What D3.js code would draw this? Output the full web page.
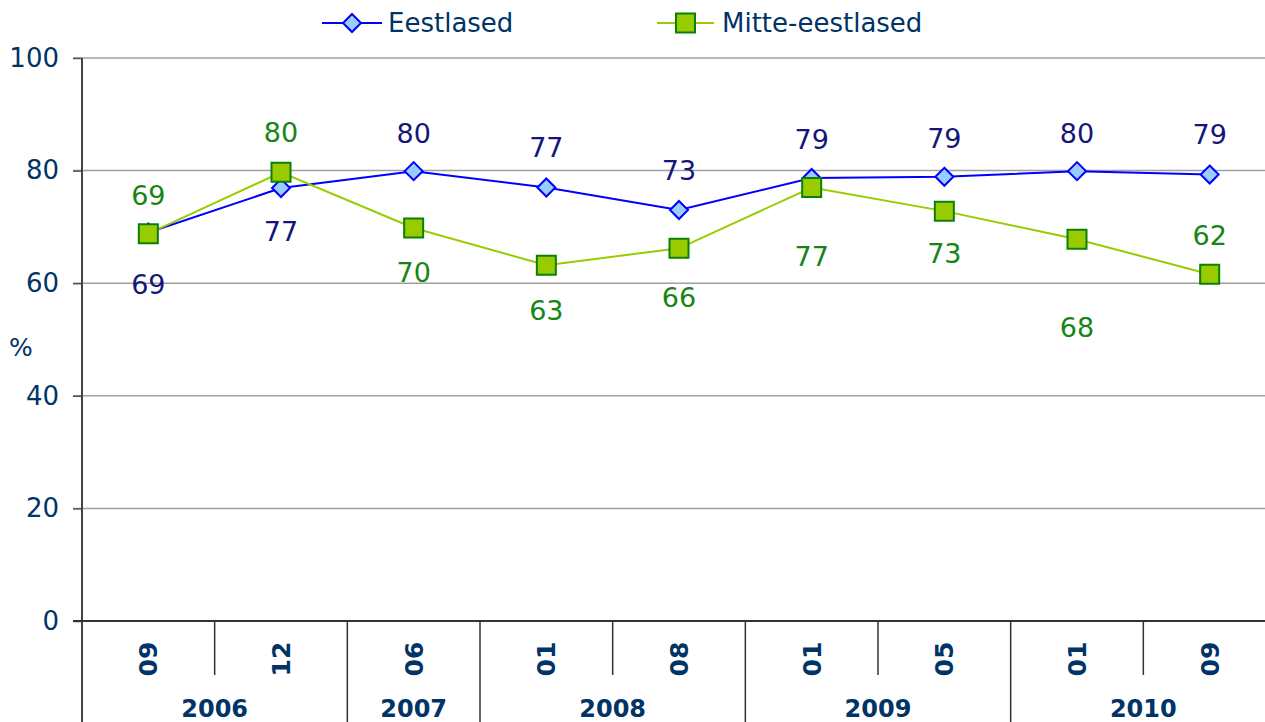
<!DOCTYPE html>
<html>
<head>
<meta charset="utf-8">
<script src="https://cdn.jsdelivr.net/npm/d3@7"></script>
<style>
  body { margin: 0; background: #fff; }
  svg { display: block; font-family: "DejaVu Sans", Verdana, sans-serif; }
</style>
</head>
<body>
<div id="chart"></div>
<script>
// data
const months = ["09", "12", "06", "01", "08", "01", "05", "01", "09"];
const years = ["2006", "2006", "2007", "2008", "2008", "2009", "2009", "2010", "2010"];
const eestlased = [69, 76.9, 79.9, 77, 73, 78.7, 78.9, 79.9, 79.3];
const mitteEestlased = [68.8, 79.7, 69.8, 63.2, 66.2, 77, 72.8, 67.8, 61.6];
const yTicks = [0, 20, 40, 60, 80, 100];

// label placement (pixel offsets of label centre from the point)
const eestLabelDy = [52, 43, -38, -40, -40, -39, -39, -38, -40];
const mitteLabelDy = [-38, -40, 44, 45, 49, 69, 42, 88, -39];

const W = 1265, H = 722;
const MARGIN = { top: 58, bottom: 101, left: 82, right: -11 };

const TEXT = "#003366";

const svg = d3.select("#chart").append("svg")
    .attr("width", W).attr("height", H);

const x = d3.scaleBand()
    .domain(d3.range(months.length))
    .range([MARGIN.left, W - MARGIN.right]);

const y = d3.scaleLinear()
    .domain([0, 100])
    .range([H - MARGIN.bottom, MARGIN.top]);

const cx = (i) => x(i) + x.bandwidth() / 2;

// gridlines
svg.append("g")
    .selectAll("line")
    .data(yTicks.filter((t) => t > 0))
    .join("line")
    .attr("x1", MARGIN.left - 9)
    .attr("x2", W)
    .attr("y1", (d) => y(d))
    .attr("y2", (d) => y(d))
    .attr("stroke", "#a0a0a0")
    .attr("stroke-width", 1.5);

// y axis
const yAxis = d3.axisLeft(y).tickValues(yTicks).tickSize(9).tickPadding(14);
const yAxisG = svg.append("g")
    .attr("transform", `translate(${MARGIN.left},0)`)
    .call(yAxis);
yAxisG.select(".domain").remove();
yAxisG.selectAll("line").attr("stroke", "#555").attr("stroke-width", 1.5);
yAxisG.selectAll("text")
    .attr("fill", TEXT)
    .attr("font-size", 26)
    .attr("font-family", "DejaVu Sans, sans-serif");

svg.append("line")
    .attr("x1", MARGIN.left).attr("x2", MARGIN.left)
    .attr("y1", MARGIN.top).attr("y2", H)
    .attr("stroke", "#444").attr("stroke-width", 2);

svg.append("line")
    .attr("x1", MARGIN.left - 9).attr("x2", W)
    .attr("y1", y(0)).attr("y2", y(0))
    .attr("stroke", "#333").attr("stroke-width", 2);

svg.append("text")
    .text("%")
    .attr("x", 21).attr("y", 356)
    .attr("text-anchor", "middle")
    .attr("fill", TEXT)
    .attr("font-size", 25);

// category axis: month separators and year separators
const sepG = svg.append("g");
d3.range(1, months.length + 1).forEach((i) => {
    const xs = x(i - 1) + x.bandwidth();
    const groupEnd = i === months.length || years[i] !== years[i - 1];
    sepG.append("line")
        .attr("x1", xs).attr("x2", xs)
        .attr("y1", y(0))
        .attr("y2", groupEnd ? H : y(0) + 54)
        .attr("stroke", "#333")
        .attr("stroke-width", 1.5);
});

svg.append("g")
    .selectAll("text")
    .data(months)
    .join("text")
    .text((d) => d)
    .attr("transform", (d, i) => `translate(${cx(i) + 9},${y(0) + 38}) rotate(-90)`)
    .attr("text-anchor", "middle")
    .attr("fill", TEXT)
    .attr("font-weight", "bold")
    .attr("font-size", 25);

const yearGroups = d3.groups(d3.range(years.length), (i) => years[i]);
svg.append("g")
    .selectAll("text")
    .data(yearGroups)
    .join("text")
    .text((d) => d[0])
    .attr("x", (d) => (x(d[1][0]) + x(d[1].at(-1)) + x.bandwidth()) / 2)
    .attr("y", H - 5)
    .attr("text-anchor", "middle")
    .attr("fill", TEXT)
    .attr("font-weight", "bold")
    .attr("font-size", 24);

// series
const series = [
    { name: "Eestlased", values: eestlased, line: "#0000ff", fill: "#99ccff", stroke: "#0000ff",
      label: "#16167a", dy: eestLabelDy, shape: "diamond" },
    { name: "Mitte-eestlased", values: mitteEestlased, line: "#99cc00", fill: "#99cc00", stroke: "#0a800a",
      label: "#168516", dy: mitteLabelDy, shape: "square" },
];

const markerPath = (shape) => shape === "diamond"
    ? "M0,-9L9,0L0,9L-9,0Z"
    : "M-9.5,-9.5H9.5V9.5H-9.5Z";

const lineGen = d3.line().x((d, i) => cx(i)).y((d) => y(d));

series.forEach((s) => {
    const g = svg.append("g");
    g.append("path")
        .attr("d", lineGen(s.values))
        .attr("fill", "none")
        .attr("stroke", s.line)
        .attr("stroke-width", 2);
    g.selectAll(".marker")
        .data(s.values)
        .join("path")
        .attr("class", "marker")
        .attr("d", markerPath(s.shape))
        .attr("transform", (d, i) => `translate(${cx(i)},${y(d)})`)
        .attr("fill", s.fill)
        .attr("stroke", s.stroke)
        .attr("stroke-width", 2);
});

series.forEach((s) => {
    svg.append("g")
        .selectAll("text")
        .data(s.values)
        .join("text")
        .text((d) => Math.round(d))
        .attr("x", (d, i) => cx(i))
        .attr("y", (d, i) => y(d) + s.dy[i])
        .attr("dy", "0.36em")
        .attr("text-anchor", "middle")
        .attr("fill", s.label)
        .attr("font-size", 27);
});

// legend
const legendItems = [
    { s: series[0], x1: 322, x2: 382, tx: 388 },
    { s: series[1], x1: 657, x2: 714, tx: 722 },
];
legendItems.forEach((l) => {
    const g = svg.append("g");
    g.append("line")
        .attr("x1", l.x1).attr("x2", l.x2)
        .attr("y1", 23).attr("y2", 23)
        .attr("stroke", l.s.line).attr("stroke-width", 2);
    g.append("path")
        .attr("d", markerPath(l.s.shape))
        .attr("transform", `translate(${(l.x1 + l.x2) / 2},23)`)
        .attr("fill", l.s.fill)
        .attr("stroke", l.s.stroke)
        .attr("stroke-width", 2);
    g.append("text")
        .text(l.s.name)
        .attr("x", l.tx).attr("y", 32)
        .attr("fill", TEXT)
        .attr("font-size", 26);
});
</script>
</body>
</html>
